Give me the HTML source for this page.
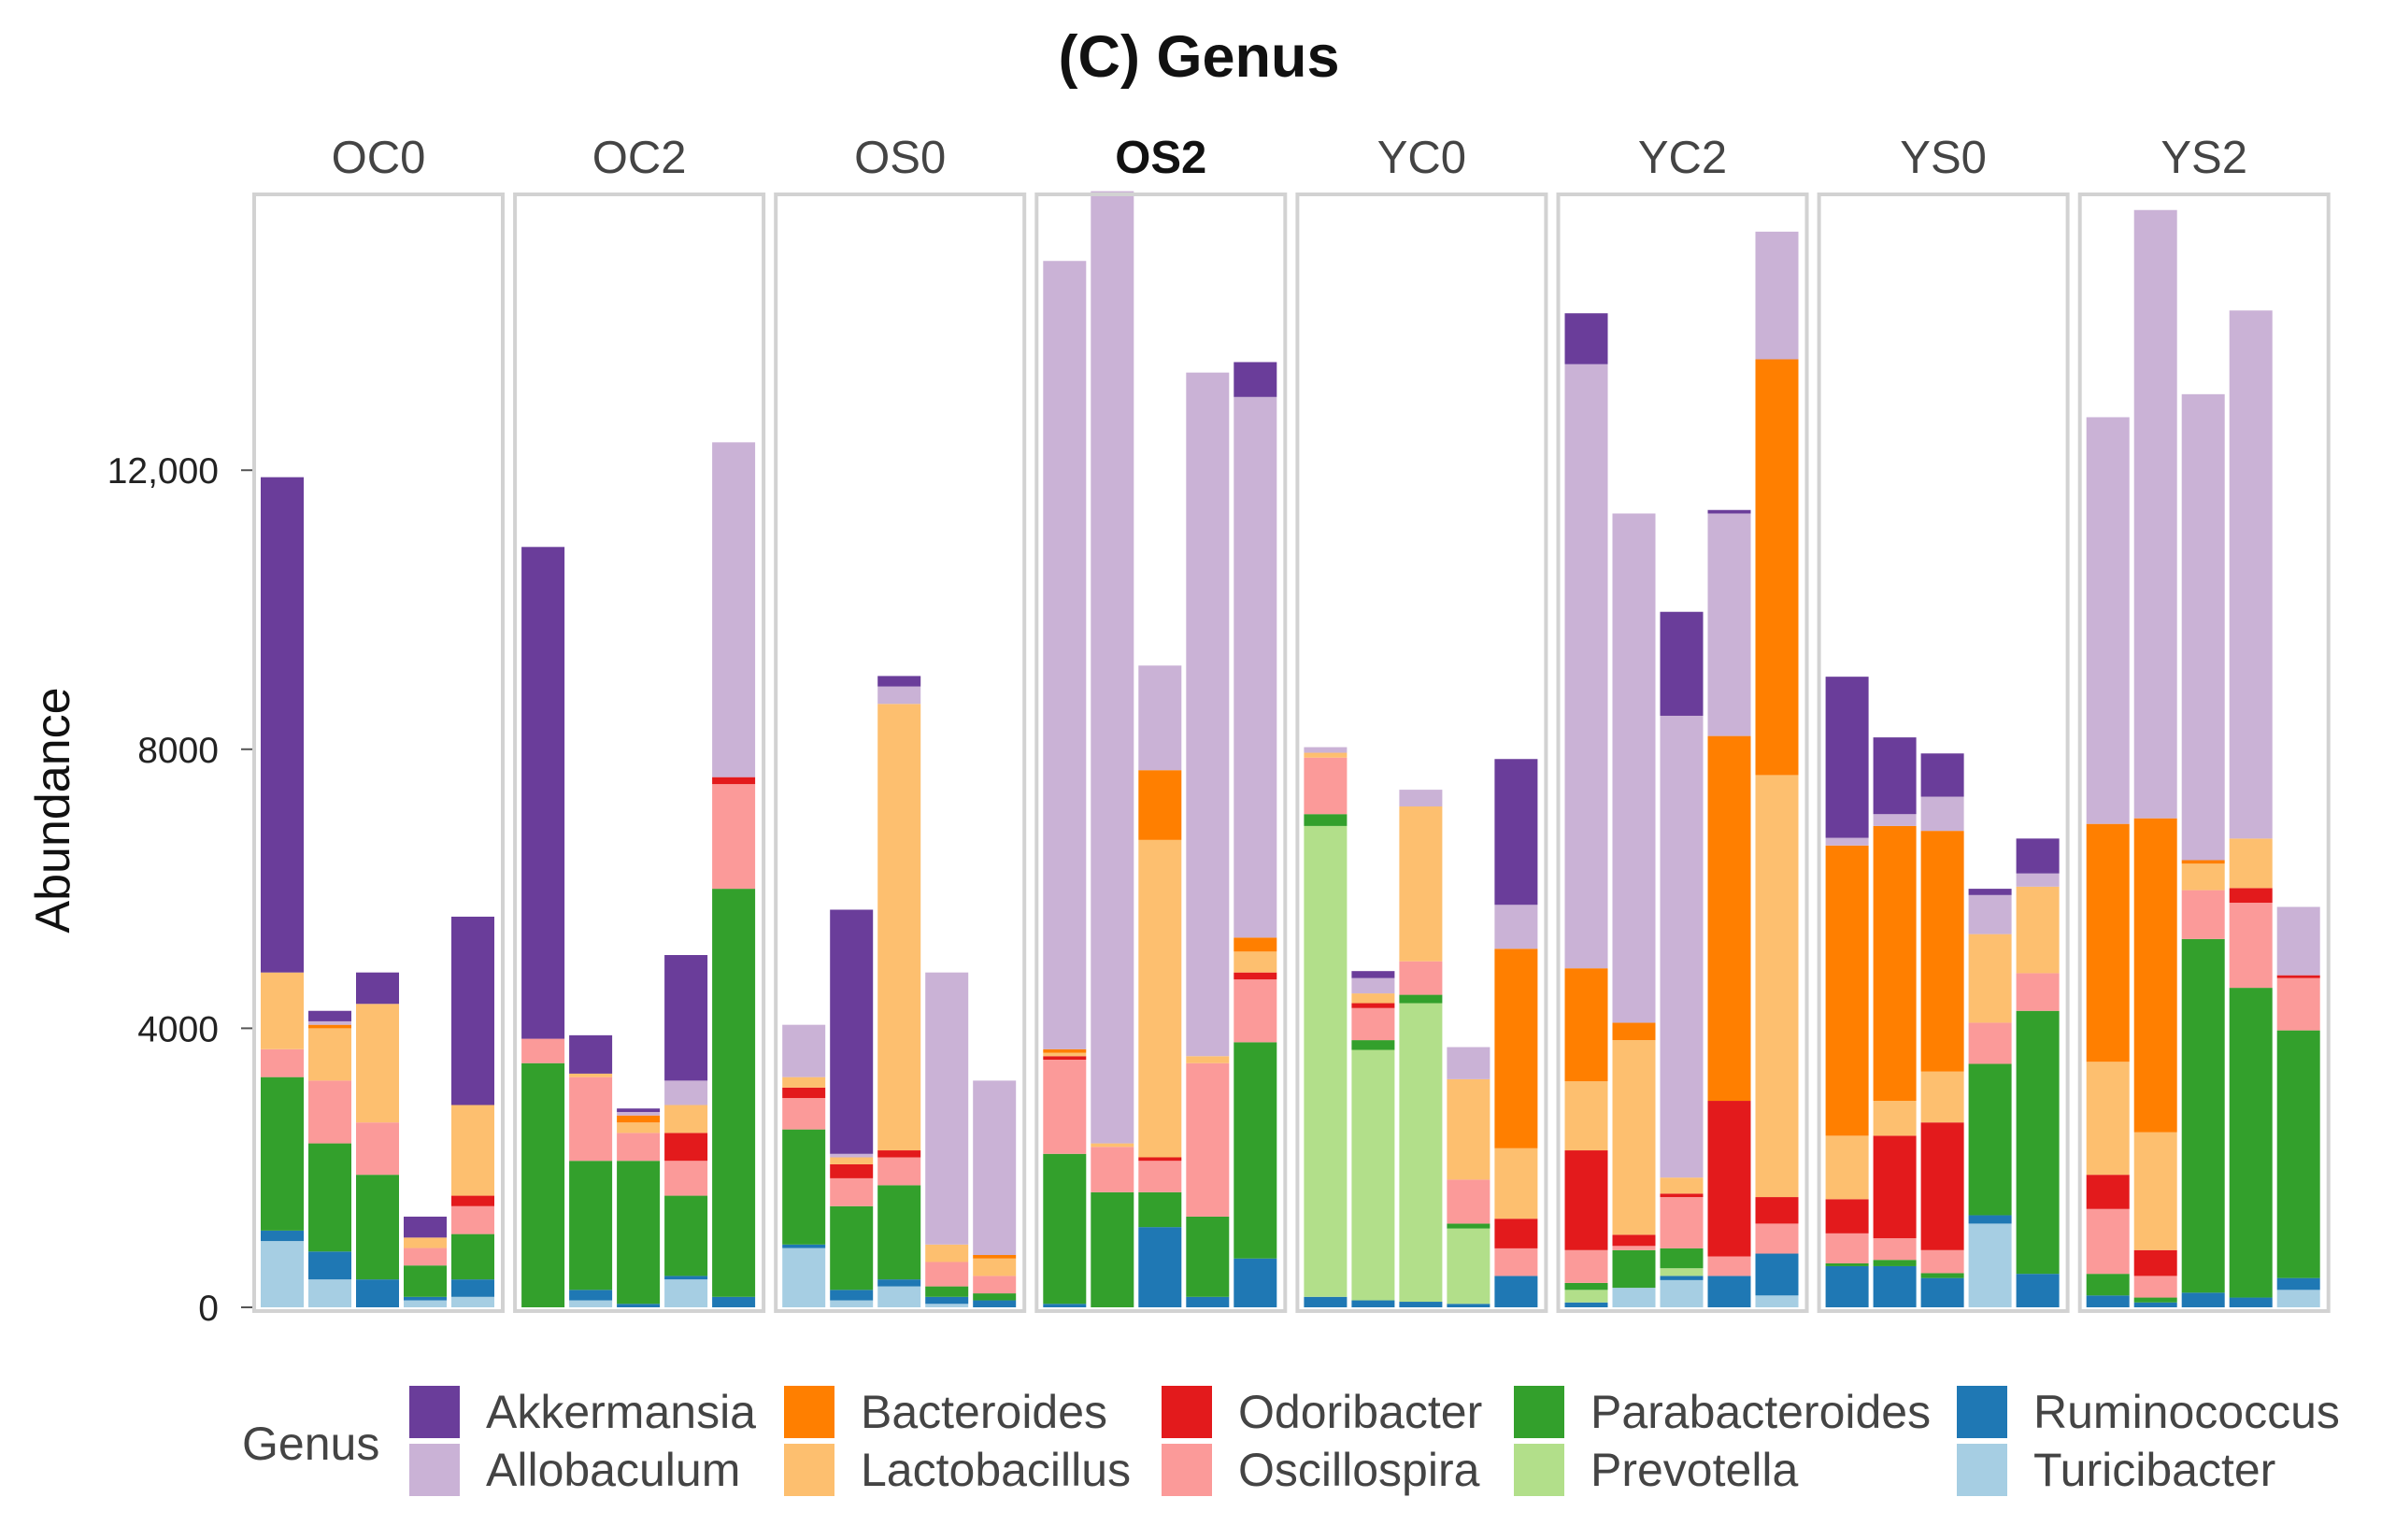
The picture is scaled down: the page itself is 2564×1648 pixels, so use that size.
<!DOCTYPE html>
<html><head><meta charset="utf-8"><style>
html,body{margin:0;padding:0;background:#fff;}
svg{display:block;font-family:"Liberation Sans",Arial,sans-serif;}
</style></head><body>
<svg id="chart" width="2564" height="1648" viewBox="0 0 2564 1648">
<text x="1283" y="82" text-anchor="middle" font-size="63" font-weight="bold" fill="#111">(C) Genus</text>
<text transform="translate(74,867) rotate(-90)" text-anchor="middle" font-size="52" fill="#111">Abundance</text>
<g id="yaxis"></g>
<g id="panels"></g>
<g id="legend"></g>
</svg>
<script>
const panelNames = ["OC0","OC2","OS0","OS2","YC0","YC2","YS0","YS2"];
const genera = ["Turicibacter","Ruminococcus","Prevotella","Parabacteroides","Oscillospira","Odoribacter","Lactobacillus","Bacteroides","Allobaculum","Akkermansia"];
const colors = ["#a6cee3","#1f78b4","#b2df8a","#33a02c","#fb9a99","#e31a1c","#fdbf6f","#ff7f00","#cab2d6","#6a3d9a"];
const yTicks = [0,4000,8000,12000];
const yTickLabels = ["0","4000","8000","12,000"];
// segment values per bar in order of genera (bottom to top)
const OC0 = [[950,150,0,2200,400,0,1100,0,0,7100],[400,400,0,1550,900,0,750,50,50,150],[0,400,0,1500,750,0,1700,0,0,450],[100,50,0,450,250,0,150,0,0,300],[150,250,0,650,400,150,1300,0,0,2700]];
const OC2 = [[0,0,0,3500,350,0,0,0,0,7050],[100,150,0,1850,1200,0,50,0,0,550],[0,50,0,2050,400,0,150,100,50,50],[400,50,0,1150,500,400,400,0,350,1800],[0,150,0,5850,1500,100,0,0,4800,0]];
const OS0 = [[850,50,0,1650,450,150,150,0,750,0],[100,150,0,1200,400,200,100,0,50,3500],[300,100,0,1350,400,100,6400,0,250,150],[50,100,0,150,350,0,250,0,3900,0],[0,100,0,100,250,0,250,50,2500,0]];
const OS2 = [[0,50,0,2150,1350,50,50,50,11300,0],[0,0,0,1650,650,0,50,0,13650,0],[0,1150,0,500,450,50,4550,1000,1500,0],[0,150,0,1150,2200,0,100,0,9800,0],[0,700,0,3100,900,100,300,200,7750,500]];
const YC0 = [[0,150,6750,170,810,0,70,0,80,0],[0,100,3590,140,460,70,140,0,220,100],[0,80,4280,120,480,0,2220,0,240,0],[0,50,1080,70,630,0,1440,0,460,0],[0,450,0,0,395,425,1010,2860,630,2090]];
const YC2 = [[0,70,180,100,470,1430,990,1620,8660,730],[280,0,0,540,60,160,2790,250,7300,0],[390,60,110,285,735,50,230,0,6620,1490],[0,450,0,0,280,2230,0,5230,3190,50],[170,600,0,0,430,380,6050,5960,1830,0]];
const YS0 = [[0,590,0,40,430,490,910,4160,110,2310],[0,590,0,90,310,1470,500,3940,170,1100],[0,420,0,70,330,1830,730,3450,490,620],[1200,120,0,2170,590,0,1270,0,560,90],[0,480,0,3770,540,0,1240,0,190,500]];
const YS2 = [[0,170,0,310,930,490,1620,3410,5830,0],[0,70,0,70,310,370,1690,4500,8720,0],[0,210,0,5070,700,0,380,50,6680,0],[0,140,0,4440,1220,210,710,0,7570,0],[250,170,0,3550,750,40,0,0,980,0]];
const panelData = [OC0,OC2,OS0,OS2,YC0,YC2,YS0,YS2];

const NS="http://www.w3.org/2000/svg";
function mk(tag,attrs,parent){const e=document.createElementNS(NS,tag);for(const k in attrs)e.setAttribute(k,attrs[k]);parent.appendChild(e);return e;}
const y0=1399, pxPer=298.6/4000;
function yScale(v){return y0-v*pxPer;}
const panelLeft=272, panelStep=279.1, panelW=266, panelTop=208, panelBottom=1403;
function xPanel(i){return panelLeft+i*panelStep;}
function xBar(i,j){return xPanel(i)+7+j*51;}
const barW=46;

const yaxis=document.getElementById('yaxis');
yTicks.forEach((t,k)=>{
  const tx=mk('text',{x:234,y:yScale(t)+14,'text-anchor':'end','font-size':39,fill:'#222'},yaxis);
  tx.textContent=yTickLabels[k];
  
  
  const ln=mk('line',{x1:258,x2:272,y1:yScale(t),y2:yScale(t),stroke:'#555','stroke-width':2},yaxis);
  
  
});

const panels=document.getElementById('panels');
panelNames.forEach((name,i)=>{
  const g=mk('g',{},panels);
  
  
  const lab=mk('text',{x:xPanel(i)+panelW/2,y:185,'text-anchor':'middle','font-size':49,fill:name==='OS2'?'#111':'#444','font-weight':name==='OS2'?'bold':'normal'},g);
  lab.textContent=name;
  
  
  panelData[i].forEach((bar,j)=>{
    let cum=0;
    bar.forEach((v,k)=>{
      if(v<=0)return;
      const r=mk('rect',{x:xBar(i,j),y:yScale(cum+v),width:barW,height:v*pxPer,fill:colors[k]},g);
      
      
      cum+=v;
    });
  });
  const box=mk('rect',{x:xPanel(i),y:panelTop,width:panelW,height:panelBottom-panelTop,fill:'none',stroke:'#d2d2d2','stroke-width':4},g);
  
  
});

const legendOrder=[9,8,7,6,5,4,3,2,1,0];
const colX=[438,839,1243,1620,2094];
const leg=document.getElementById('legend');
const lt=mk('text',{x:259,y:1562,'font-size':50,fill:'#444'},leg);
lt.textContent='Genus';


legendOrder.forEach((gi,n)=>{
  const col=Math.floor(n/2), row=n%2;
  const x=colX[col], y=1483+row*62;
  const sw=mk('rect',{x:x,y:y,width:54,height:56,fill:colors[gi]},leg);
  
  
  const t=mk('text',{x:x+82,y:y+45,'font-size':50,fill:'#444'},leg);
  t.textContent=genera[gi];
  
  
});
</script>
</body></html>
